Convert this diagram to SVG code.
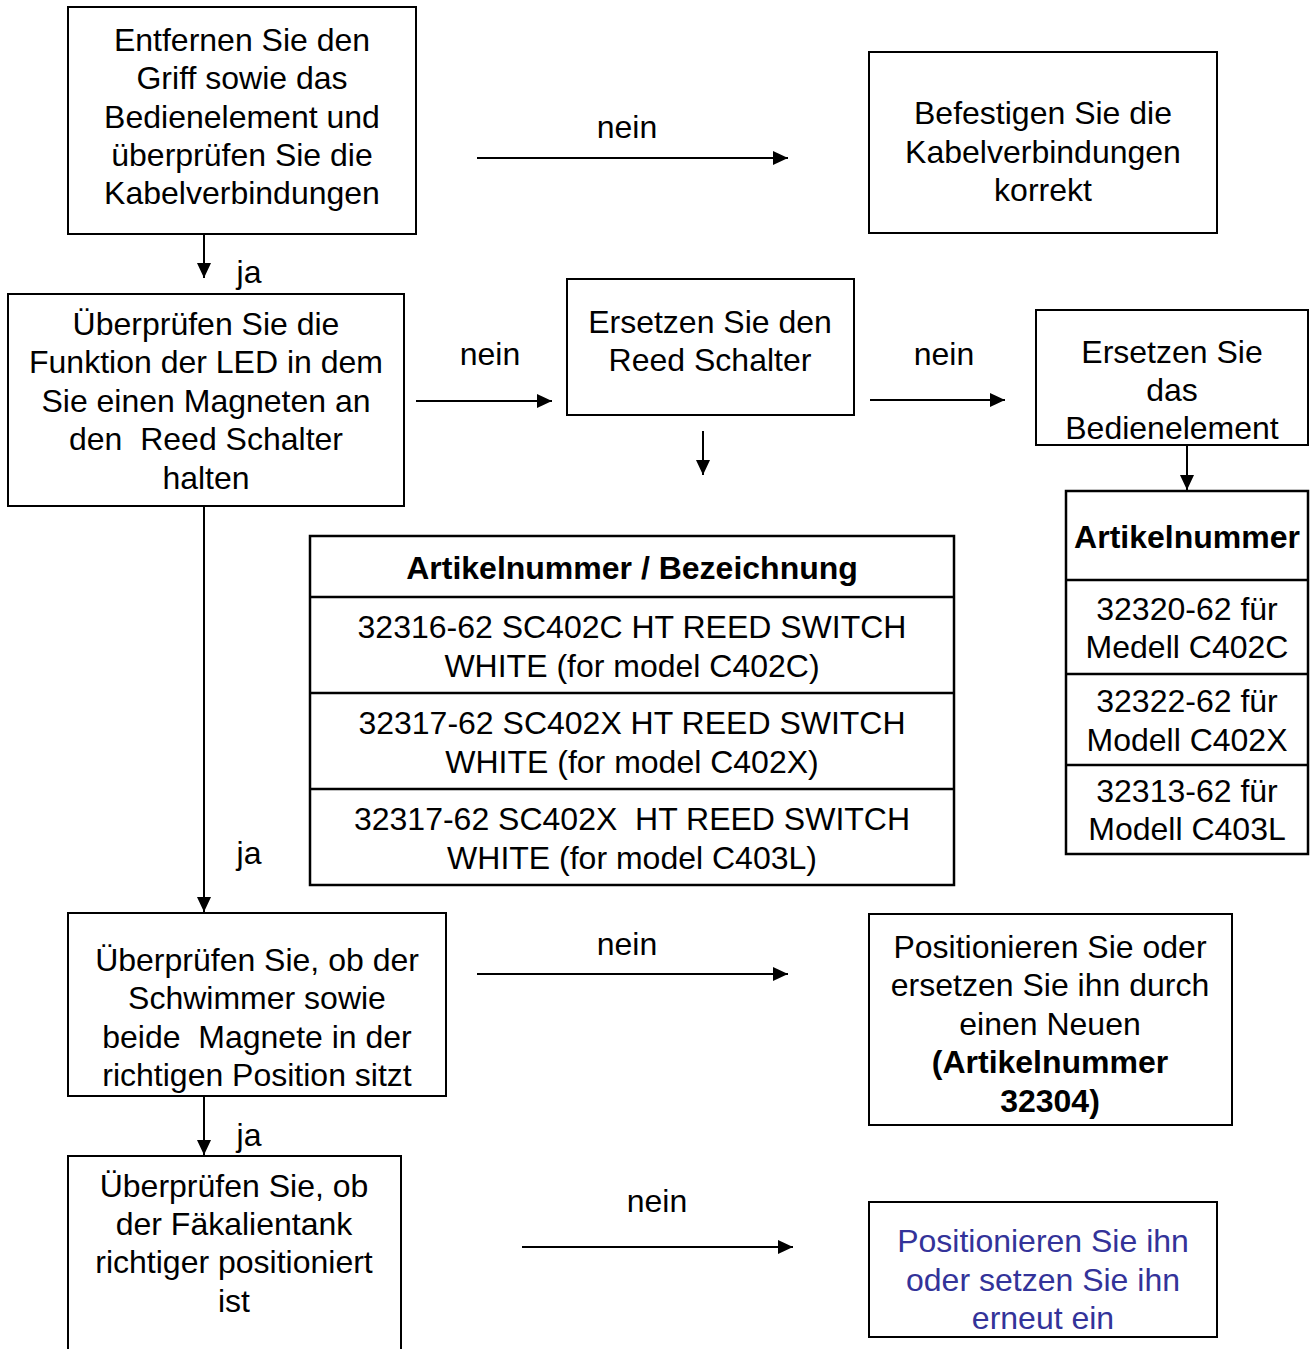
<svg xmlns="http://www.w3.org/2000/svg" width="1313" height="1349" viewBox="0 0 1313 1349">
<style>
text{font-family:"Liberation Sans",Arial,sans-serif;font-size:32px;fill:#000;text-anchor:middle;white-space:pre}
.b{font-weight:bold}
.blue{fill:#333399}
.box{fill:#fff;stroke:#000;stroke-width:2}
.tb{fill:none;stroke:#000;stroke-width:2.5}
.c{stroke:#000;stroke-width:2;fill:none}
.lbl{text-anchor:middle}
</style>
<defs>
<marker id="ah" markerUnits="userSpaceOnUse" markerWidth="16" markerHeight="14" refX="15" refY="7" orient="auto">
<path d="M0,0 L15,7 L0,14 z" fill="#000"/>
</marker>
</defs>
<rect width="1313" height="1349" fill="#fff"/>

<g id="connectors">
<line class="c" x1="204" y1="234" x2="204" y2="278" marker-end="url(#ah)"/>
<text x="249" y="283">ja</text>
<line class="c" x1="477" y1="158" x2="788" y2="158" marker-end="url(#ah)"/>
<text x="627" y="138">nein</text>
<line class="c" x1="416" y1="401" x2="552" y2="401" marker-end="url(#ah)"/>
<text x="490" y="365">nein</text>
<line class="c" x1="703" y1="431" x2="703" y2="475" marker-end="url(#ah)"/>
<line class="c" x1="870" y1="400" x2="1005" y2="400" marker-end="url(#ah)"/>
<text x="944" y="365">nein</text>
<line class="c" x1="1187" y1="445" x2="1187" y2="490" marker-end="url(#ah)"/>
<line class="c" x1="204" y1="506" x2="204" y2="912" marker-end="url(#ah)"/>
<text x="249" y="864">ja</text>
<line class="c" x1="477" y1="974" x2="788" y2="974" marker-end="url(#ah)"/>
<text x="627" y="955">nein</text>
<line class="c" x1="204" y1="1096" x2="204" y2="1155" marker-end="url(#ah)"/>
<text x="249" y="1146">ja</text>
<line class="c" x1="522" y1="1247" x2="793" y2="1247" marker-end="url(#ah)"/>
<text x="657" y="1212">nein</text>
</g>

<g id="n1">
<rect class="box" x="68" y="7" width="348" height="227"/>
<text x="242" y="51">Entfernen Sie den</text>
<text x="242" y="89">Griff sowie das</text>
<text x="242" y="128">Bedienelement und</text>
<text x="242" y="166">überprüfen Sie die</text>
<text x="242" y="204">Kabelverbindungen</text>
</g>

<g id="n2">
<rect class="box" x="869" y="52" width="348" height="181"/>
<text x="1043" y="124">Befestigen Sie die</text>
<text x="1043" y="163">Kabelverbindungen</text>
<text x="1043" y="201">korrekt</text>
</g>

<g id="n3">
<rect class="box" x="8" y="294" width="396" height="212"/>
<text x="206" y="335">Überprüfen Sie die</text>
<text x="206" y="373">Funktion der LED in dem</text>
<text x="206" y="412">Sie einen Magneten an</text>
<text x="206" y="450">den  Reed Schalter</text>
<text x="206" y="489">halten</text>
</g>

<g id="n4">
<rect class="box" x="567" y="279" width="287" height="136"/>
<text x="710" y="333">Ersetzen Sie den</text>
<text x="710" y="371">Reed Schalter</text>
</g>

<g id="n5">
<rect class="box" x="1036" y="310" width="272" height="135"/>
<text x="1172" y="363">Ersetzen Sie</text>
<text x="1172" y="401">das</text>
<text x="1172" y="439">Bedienelement</text>
</g>

<g id="n6">
<rect class="tb" x="310" y="536" width="644" height="349"/>
<line class="tb" x1="310" y1="597" x2="954" y2="597"/>
<line class="tb" x1="310" y1="693" x2="954" y2="693"/>
<line class="tb" x1="310" y1="789" x2="954" y2="789"/>
<text class="b" x="632" y="579">Artikelnummer / Bezeichnung</text>
<text x="632" y="638">32316-62 SC402C HT REED SWITCH</text>
<text x="632" y="677">WHITE (for model C402C)</text>
<text x="632" y="734">32317-62 SC402X HT REED SWITCH</text>
<text x="632" y="773">WHITE (for model C402X)</text>
<text x="632" y="830">32317-62 SC402X  HT REED SWITCH</text>
<text x="632" y="869">WHITE (for model C403L)</text>
</g>

<g id="n7">
<rect class="tb" x="1066" y="491" width="242" height="363"/>
<line class="tb" x1="1066" y1="580" x2="1308" y2="580"/>
<line class="tb" x1="1066" y1="674" x2="1308" y2="674"/>
<line class="tb" x1="1066" y1="765" x2="1308" y2="765"/>
<text class="b" x="1187" y="548">Artikelnummer</text>
<text x="1187" y="620">32320-62 für</text>
<text x="1187" y="658">Medell C402C</text>
<text x="1187" y="712">32322-62 für</text>
<text x="1187" y="751">Modell C402X</text>
<text x="1187" y="802">32313-62 für</text>
<text x="1187" y="840">Modell C403L</text>
</g>

<g id="n8">
<rect class="box" x="68" y="913" width="378" height="183"/>
<text x="257" y="971">Überprüfen Sie, ob der</text>
<text x="257" y="1009">Schwimmer sowie</text>
<text x="257" y="1048">beide  Magnete in der</text>
<text x="257" y="1086">richtigen Position sitzt</text>
</g>

<g id="n9">
<rect class="box" x="869" y="914" width="363" height="211"/>
<text x="1050" y="958">Positionieren Sie oder</text>
<text x="1050" y="996">ersetzen Sie ihn durch</text>
<text x="1050" y="1035">einen Neuen</text>
<text class="b" x="1050" y="1073">(Artikelnummer</text>
<text class="b" x="1050" y="1112">32304)</text>
</g>

<g id="n10">
<path class="c" d="M68,1349 L68,1156 L401,1156 L401,1349"/>
<text x="234" y="1197">Überprüfen Sie, ob</text>
<text x="234" y="1235">der Fäkalientank</text>
<text x="234" y="1273">richtiger positioniert</text>
<text x="234" y="1312">ist</text>
</g>

<g id="n11">
<rect class="box" x="869" y="1202" width="348" height="135"/>
<text class="blue" x="1043" y="1252">Positionieren Sie ihn</text>
<text class="blue" x="1043" y="1291">oder setzen Sie ihn</text>
<text class="blue" x="1043" y="1329">erneut ein</text>
</g>
</svg>
